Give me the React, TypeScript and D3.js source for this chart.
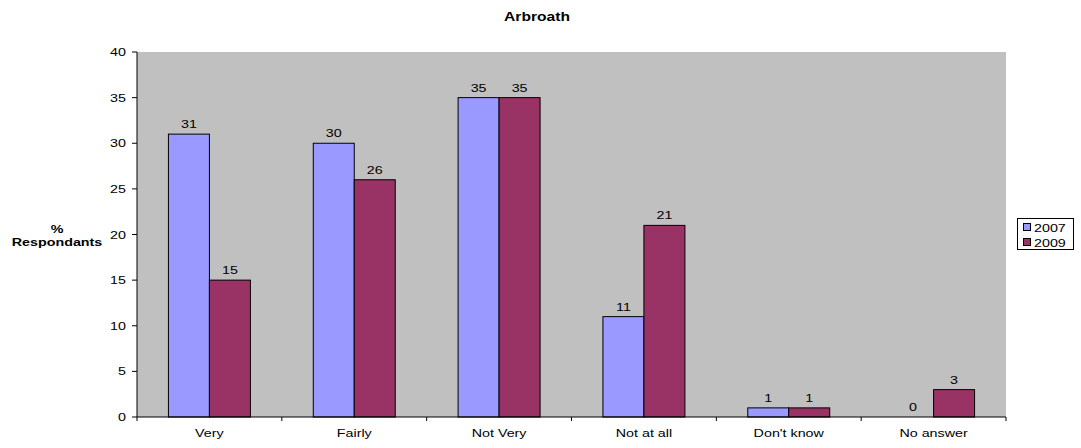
import React from "react";
import * as d3 from "d3";

const categories = ["Very", "Fairly", "Not Very", "Not at all", "Don't know", "No answer"];
const series = ["2007", "2009"];
const values2007 = [31, 30, 35, 11, 1, 0];
const values2009 = [15, 26, 35, 21, 1, 3];
const yTicks = [0, 5, 10, 15, 20, 25, 30, 35, 40];
const colors = ["#9999FF", "#993366"];

const SX = 1.3;
function T(props: { x: number; y: number; anchor?: string; size?: number; bold?: boolean; children: any }) {
  const { x, y, anchor = "start", size = 11, bold = false, children } = props;
  return (
    <g transform={`translate(${x},${y}) scale(${SX},1)`}>
      <text x={0} y={0} textAnchor={anchor as any} fontSize={size} fontWeight={bold ? "bold" : "normal"}>{children}</text>
    </g>
  );
}

export default function App() {
  const W = 1081, H = 448;
  const left = 137, right = 1006, top = 52, bottom = 417;
  const x = d3.scaleBand<string>().domain(categories).range([left, right]).paddingInner(0).paddingOuter(0);
  const y = d3.scaleLinear().domain([0, 40]).range([bottom, top]);
  const bw = x.bandwidth() * 0.283;
  const data = [values2007, values2009];
  const font = "'Liberation Sans', Arial, sans-serif";
  return (
    <svg width={W} height={H} style={{ position: "absolute", left: 0, top: 0, fontFamily: font }}>
      <rect x={0} y={0} width={W} height={H} fill="#fff" />
      <rect x={left} y={top} width={right - left} height={bottom - top} fill="#C0C0C0" />
      <T x={537} y={21} anchor="middle" size={12} bold>Arbroath</T>
      <T x={57} y={233} anchor="middle" bold>%</T>
      <T x={57} y={246} anchor="middle" bold>Respondants</T>
      {categories.map((c, i) => {
        const cx = x(c)! + x.bandwidth() / 2;
        return (
          <g key={c}>
            {data.map((vals, s) => {
              const bx = cx - bw + s * bw;
              const v = vals[i];
              return (
                <g key={s}>
                  {v > 0 && (
                    <rect x={bx} y={y(v)} width={bw} height={y(0) - y(v)} fill={colors[s]} stroke="#000" strokeWidth={1} />
                  )}
                  <T x={bx + bw / 2} y={y(v) - 6} anchor="middle">{v}</T>
                </g>
              );
            })}
            <T x={cx} y={437} anchor="middle">{c}</T>
          </g>
        );
      })}
      <line x1={left} x2={left} y1={top} y2={bottom} stroke="#000" />
      <line x1={left} x2={right} y1={bottom} y2={bottom} stroke="#000" />
      {yTicks.map(t => (
        <g key={t}>
          <line x1={left - 5} x2={left} y1={y(t)} y2={y(t)} stroke="#000" />
          <T x={left - 11} y={y(t) + 4} anchor="end">{t}</T>
        </g>
      ))}
      {categories.concat(["end"]).map((c, i) => {
        const tx = left + i * x.bandwidth();
        return <line key={i} x1={tx} x2={tx} y1={bottom} y2={bottom + 4} stroke="#000" />;
      })}
      <rect x={1017.5} y={218.5} width={56} height={31} fill="#fff" stroke="#000" />
      {series.map((s, i) => (
        <g key={s}>
          <rect x={1023.5} y={223.5 + i * 15} width={7} height={7} fill={colors[i]} stroke="#000" />
          <T x={1034} y={231.5 + i * 15}>{s}</T>
        </g>
      ))}
    </svg>
  );
}
